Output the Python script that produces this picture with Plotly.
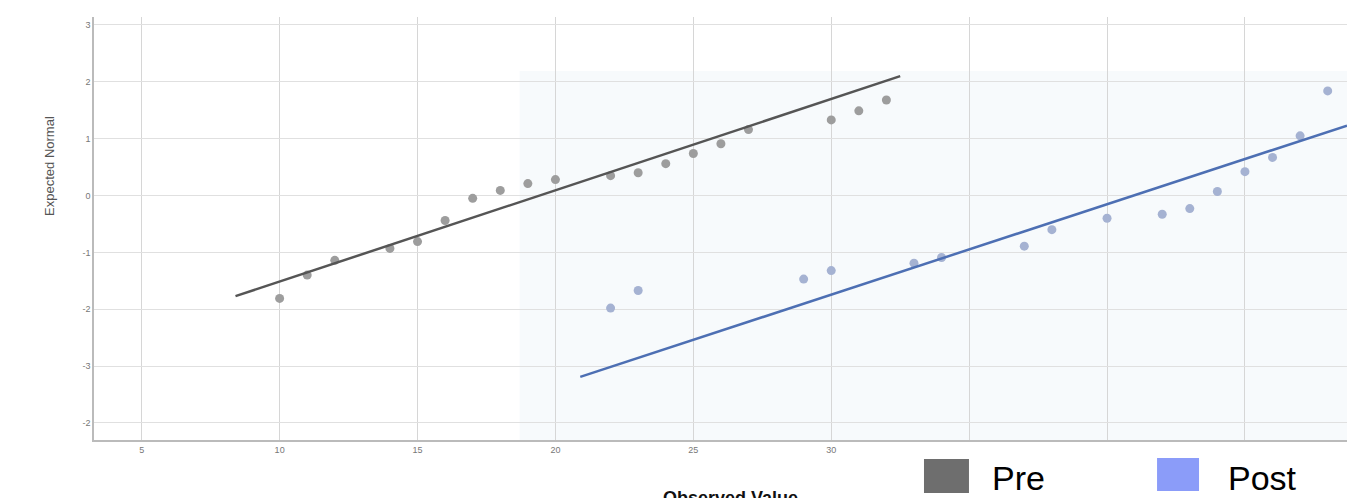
import plotly.graph_objects as go

# ---- data ----
pre_x = [10, 11, 12, 14, 15, 16, 17, 18, 19, 20, 22, 23, 24, 25, 26, 27, 30, 31, 32]
pre_y = [-1.81, -1.40, -1.14, -0.93, -0.81, -0.44, -0.05, 0.09, 0.21, 0.28, 0.35, 0.40,
         0.56, 0.74, 0.91, 1.16, 1.33, 1.49, 1.68]
pre_line_x = [8.4, 32.5]
pre_line_y = [-1.77, 2.10]

post_x = [22, 23, 29, 30, 33, 34, 37, 38, 40, 42, 43, 44, 45, 46, 47, 48]
post_y = [-1.98, -1.67, -1.47, -1.32, -1.19, -1.09, -0.89, -0.60, -0.40, -0.33, -0.23,
          0.07, 0.42, 0.67, 1.05, 1.84]
post_line_x = [20.9, 48.7]
post_line_y = [-3.19, 1.23]

x_tickvals = [5, 10, 15, 20, 25, 30, 35, 40, 45]
x_ticktext = ["5", "10", "15", "20", "25", "30", "", "", ""]
y_tickvals = [3, 2, 1, 0, -1, -2, -3, -4]
y_ticktext = ["3", "2", "1", "0", "-1", "-2", "-3", "-2"]

legend_names = ["Pre", "Post"]
legend_colors = ["#6e6e6e", "#8b9cf9"]

fig = go.Figure()

fig.add_trace(go.Scatter(x=pre_x, y=pre_y, mode="markers",
                         marker=dict(size=9, color="#9d9d9d"), showlegend=False))
fig.add_trace(go.Scatter(x=pre_line_x, y=pre_line_y, mode="lines",
                         line=dict(color="#555555", width=2.5), showlegend=False))
fig.add_trace(go.Scatter(x=post_x, y=post_y, mode="markers",
                         marker=dict(size=9, color="#a5b2d2"), showlegend=False))
fig.add_trace(go.Scatter(x=post_line_x, y=post_line_y, mode="lines",
                         line=dict(color="#4d6fb3", width=2.5), showlegend=False))

# faint tinted backdrop of the second (Post) panel
fig.add_shape(type="rect", xref="x", yref="y", x0=18.7, x1=48.7, y0=-4.3, y1=2.19,
              fillcolor="#f7fafc", line=dict(width=0), layer="below")

# legend drawn as squares + text
sq = [(0.6624, 0.6983, -0.0449, -0.1253), (0.8484, 0.8819, -0.0426, -0.1206)]
tx = [0.7151, 0.9034]
for (x0, x1, y0, y1), name, col, t in zip(sq, legend_names, legend_colors, tx):
    fig.add_shape(type="rect", xref="paper", yref="paper", x0=x0, x1=x1, y0=y0, y1=y1,
                  fillcolor=col, line=dict(width=0))
    fig.add_annotation(xref="paper", yref="paper", x=t, y=-0.09, text=name,
                       showarrow=False, xanchor="left", yanchor="middle",
                       font=dict(family="Liberation Sans, Arial", size=34, color="#000000"))

fig.add_annotation(xref="paper", yref="paper", x=-0.0351, y=0.648, text="Expected Normal",
                   textangle=-90, showarrow=False, xanchor="center", yanchor="middle",
                   font=dict(family="Liberation Sans Narrow, Liberation Sans, Arial", size=13,
                             color="#555555"))
fig.add_annotation(xref="paper", yref="paper", x=0.508, y=-0.108, text="<b>Observed Value</b>",
                   showarrow=False, xanchor="center", yanchor="top",
                   font=dict(family="Liberation Sans, Arial", size=18, color="#111111"))

fig.update_layout(
    width=1347, height=498,
    margin=dict(l=94, r=0, t=17, b=58),
    paper_bgcolor="white", plot_bgcolor="white",
    xaxis=dict(range=[3.27, 48.7], tickvals=x_tickvals, ticktext=x_ticktext,
               showgrid=True, gridcolor="#d6d6d6", gridwidth=1.3, zeroline=False,
               showline=True, linecolor="#bbbbbb", linewidth=1.5,
               tickfont=dict(size=9, color="#777777", family="Liberation Sans, Arial")),
    yaxis=dict(range=[-4.30, 3.14], tickvals=y_tickvals, ticktext=y_ticktext,
               showgrid=True, gridcolor="#e0e0e0", gridwidth=1.3, zeroline=False,
               showline=True, linecolor="#bbbbbb", linewidth=1.5,
               tickfont=dict(size=9, color="#777777", family="Liberation Sans, Arial")),
)

# remove the default page margin so the 1347x498 figure fills the window exactly
page_fix = "document.body.style.margin='0';document.body.style.overflow='hidden';"

fig.write_html("out.html", post_script=page_fix, config={"displayModeBar": False})
